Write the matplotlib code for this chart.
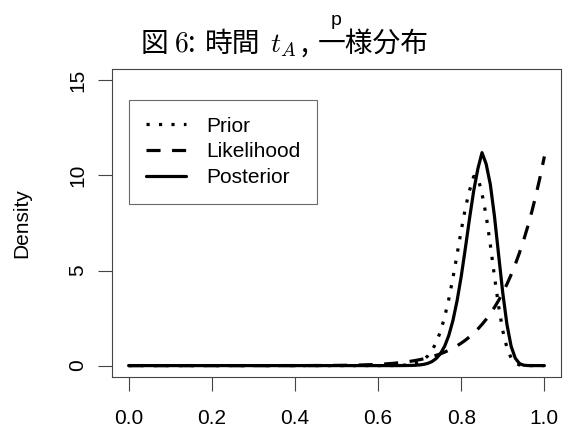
import numpy as np
import matplotlib
matplotlib.use("Agg")
import matplotlib.pyplot as plt

plt.rcParams['mathtext.fontset'] = 'cm'

# ---- data ----
x_vals = np.linspace(0.0, 1.0, 101)

prior = ([0.0] * 62 +
         [0.0015, 0.0025, 0.005, 0.01, 0.019, 0.036, 0.065, 0.114, 0.194, 0.321,
          0.516, 0.807, 1.222, 1.792, 2.543, 3.484, 4.599, 5.84, 7.115, 8.29,
          9.21, 9.95, 9.9, 9.046, 7.89, 6.36, 4.686, 3.113, 1.832, 0.933,
          0.399, 0.137, 0.036, 0.006, 0.001, 0.0, 0.0, 0.0, 0.0])

likelihood = ([0.0] * 37 +
              [0.001, 0.001, 0.001,
               0.001, 0.001, 0.002, 0.002, 0.003, 0.004, 0.005, 0.006, 0.007, 0.009,
               0.011, 0.013, 0.016, 0.019, 0.023, 0.028, 0.033, 0.04, 0.047, 0.056,
               0.067, 0.078, 0.092, 0.108, 0.127, 0.148, 0.173, 0.201, 0.233, 0.269,
               0.311, 0.358, 0.412, 0.473, 0.542, 0.619, 0.707, 0.806, 0.917, 1.042,
               1.181, 1.337, 1.512, 1.707, 1.924, 2.166, 2.434, 2.733, 3.064, 3.43,
               3.835, 4.284, 4.778, 5.324, 5.925, 6.586, 7.313, 8.112, 8.988, 9.948,
               11.0])

posterior = ([0.0] * 65 +
             [0.001, 0.002, 0.005, 0.009, 0.018, 0.034, 0.065, 0.12, 0.216, 0.375,
              0.627, 1.013, 1.578, 2.366, 3.405, 4.69, 6.18, 7.74, 9.19, 10.35,
              11.2, 10.6, 9.53, 7.85, 5.81, 3.81, 2.16, 1.02, 0.39, 0.11,
              0.022, 0.003, 0.0, 0.0, 0.0, 0.0])

series_labels = ["Prior", "Likelihood", "Posterior"]
x_ticks = [0.0, 0.2, 0.4, 0.6, 0.8, 1.0]
x_ticklabels = ["0.0", "0.2", "0.4", "0.6", "0.8", "1.0"]
y_ticks = [0, 5, 10, 15]
y_ticklabels = ["0", "5", "10", "15"]
title_parts = ["図", "$6$:", "時間", "$t_A$", ",", "一様分布"]
title_extra = "p"
y_label = "Density"

# ---- figure ----
W, H = 568, 433
fig = plt.figure(figsize=(W / 100, H / 100), dpi=100)
ax = fig.add_axes([112 / W, 1 - 377 / H, 449 / W, 308 / H])

lw = 2.3
ax.plot(x_vals, prior, color='black', lw=lw, dashes=(1.0, 2.9),
        dash_capstyle='butt', label=series_labels[0])
ax.plot(x_vals, likelihood, color='black', lw=lw, dashes=(4.4, 3.6),
        dash_capstyle='butt', label=series_labels[1])
ax.plot(x_vals, posterior, color='black', lw=lw, ls='-',
        solid_capstyle='round', label=series_labels[2])

ax.set_xlim(-0.04, 1.04)
ax.set_ylim(-0.6, 15.6)
ax.set_xticks(x_ticks)
ax.set_xticklabels(x_ticklabels, fontfamily='Liberation Sans', fontsize=15)
ax.set_yticks(y_ticks)
ax.set_yticklabels(y_ticklabels, fontfamily='Liberation Sans', fontsize=15,
                   rotation=90, va='center')
ax.tick_params(axis='x', length=10, width=0.8, color='#444444', pad=13)
ax.tick_params(axis='y', length=10, width=0.8, color='#444444', pad=8)
for sp in ax.spines.values():
    sp.set_color('#444444')
    sp.set_linewidth(0.8)

fig.text(22 / W, 1 - 223 / H, y_label, rotation=90, ha='center', va='center',
         fontfamily='Liberation Sans', fontsize=15)

leg = ax.legend(loc='upper left', bbox_to_anchor=((129 - 112) / 449, (377 - 100) / 308),
                prop={'family': 'Liberation Sans', 'size': 15},
                frameon=True, fancybox=False, edgecolor='#444444',
                handlelength=1.95, handletextpad=0.95, labelspacing=0.32,
                borderpad=0.8, borderaxespad=0.0)
leg.get_frame().set_linewidth(0.8)

# title pieces placed at the left edges measured on the reference
title_left_px = [141, 174, 205, 270, 300, 318]
for part, xl in zip(title_parts, title_left_px):
    fig.text(xl / W, 1 - 52 / H, part, ha='left', va='baseline',
             fontsize=20, family=['Noto Sans CJK JP', 'DejaVu Sans'])
fig.text(336 / W, 1 - 25 / H, title_extra, ha='center', va='baseline',
         fontsize=14, fontfamily='Liberation Sans')

fig.savefig("out.png", dpi=100)
